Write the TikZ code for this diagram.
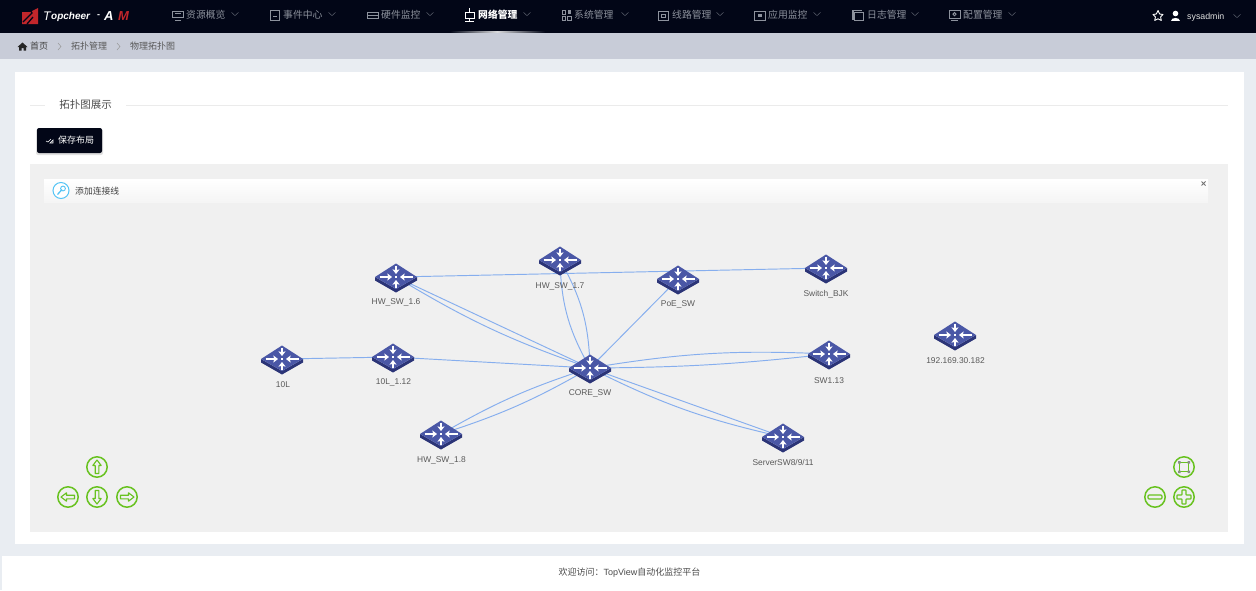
\documentclass[tikz,border=0pt]{standalone}
\usepackage{fontspec}
\setmainfont{Liberation Sans}
\newfontfamily\cjk{Noto Sans CJK SC}
\usetikzlibrary{arrows.meta,shadows}
\definecolor{navbg}{HTML}{020617}
\definecolor{crumbbg}{HTML}{C8CCD8}
\definecolor{pagebg}{HTML}{E9EDF2}
\definecolor{canvasbg}{HTML}{F0F0F0}
\definecolor{linkc}{HTML}{86AEEE}
\definecolor{faceC}{HTML}{4A57A6}
\definecolor{sideC}{HTML}{2B3477}
\definecolor{greenC}{HTML}{68C220}
\definecolor{menuC}{HTML}{8D929D}
\definecolor{logoR}{HTML}{C2262B}
\definecolor{iconB}{HTML}{55C4F5}
\newcommand{\fs}[1]{\fontsize{#1}{#1}\selectfont}
\tikzset{
  x=1pt,y=-1pt,
  anchorpt/.style={inner sep=0pt,minimum size=0pt,outer sep=0pt},
  devlabel/.style={inner sep=0pt,text=black!65,font=\fs{8.4}},
  menuitem/.style={inner sep=0pt,anchor=west,text=menuC,font=\cjk\fs{9.8}},
  crumb/.style={inner sep=0pt,anchor=west,text=black!75,font=\cjk\fs{9}},
  link/.style={draw=linkc,line width=0.95pt},
  chev/.style={draw=menuC!65!navbg,line width=0.5pt},
  gbtn/.style={draw=greenC,line width=1.5pt,fill=canvasbg},
  gsym/.style={draw=greenC,line width=1.1pt,line join=round},
  micon/.style={draw=menuC,line width=0.9pt},
  rarrow/.style={white,line width=1.5pt,-{Stealth[length=4.6pt,width=7pt,inset=0.8pt]}},
  router/.pic={
    \fill[sideC] (-21,0)--(0,12)--(21,0)--(21,3.5)--(0,15.5)--(-21,3.5)--cycle;
    \fill[faceC] (-21,0)--(0,-13.5)--(21,0)--(0,12)--cycle;
    \draw[rarrow] (-16.5,0)--(-4,0);
    \draw[rarrow] (16.5,0)--(4,0);
    \draw[rarrow] (0,-11.5)--(0,-3);
    \draw[rarrow] (0,11)--(0,3);
    \fill[white] (-1.4,-1.2) rectangle (1.4,1.2);
  },
  arrowbtn/.pic={
    \draw[gbtn] (0,0) circle (10.2);
    \draw[gsym] (0,-7)--(4.2,-1.5)--(1.8,-1.5)--(1.8,6.5)--(-1.8,6.5)--(-1.8,-1.5)--(-4.2,-1.5)--cycle;
  }
}
\newcommand{\chevron}[2]{\draw[chev] (#1-3.5,#2-1.6)--(#1,#2+1.6)--(#1+3.5,#2-1.6);}
\begin{document}
\begin{tikzpicture}
\useasboundingbox (0,0) rectangle (1256,590);
% page
\fill[pagebg] (0,0) rectangle (1256,590);
\fill[navbg] (0,0) rectangle (1256,33);
\fill[crumbbg] (0,33) rectangle (1256,59);
\fill[white] (2,556) rectangle (1256,590);
\fill[white] (15,72) rectangle (1244,544);
\fill[canvasbg] (30,164) rectangle (1228,532);
% logo
\fill[logoR] (22,12)--(30,12)--(38,8)--(38,24)--(22,24)--cycle;
\draw[navbg,line width=1.3pt] (29,8)--(32,13)--(23,22);
\draw[navbg,line width=1.3pt] (33,17)--(27,24);
\node[anchor=west,inner sep=0pt,text=white,font=\itshape\fs{12.5}] (logot) at (43,16.5) {T};
\node[anchor=west,inner sep=0pt,text=white,font=\itshape\bfseries\fs{10}] (logotext) at (51,17) {opcheer};
\node[anchor=west,inner sep=0pt,text=white!70,font=\bfseries\fs{9}] (logodash) at (97,16.5) {-};
\node[anchor=west,inner sep=0pt,text=white,font=\itshape\bfseries\fs{13}] (logoam) at (104,16.5) {A};
\node[anchor=west,inner sep=0pt,text=logoR,font=\itshape\bfseries\fs{13}] (logoam2) at (118,16.5) {M};
% menu
\node[menuitem] (m1) at (186,15) {资源概览};
\node[menuitem] (m2) at (283,15) {事件中心};
\node[menuitem] (m3) at (381,15) {硬件监控};
\node[menuitem,text=white,font=\cjk\bfseries\fs{9.8}] (m4) at (478,15) {网络管理};
\node[menuitem] (m5) at (574,15) {系统管理};
\node[menuitem] (m6) at (672,15) {线路管理};
\node[menuitem] (m7) at (768,15) {应用监控};
\node[menuitem] (m8) at (867,15) {日志管理};
\node[menuitem] (m9) at (963,15) {配置管理};
\chevron{235}{14}\chevron{332}{14}\chevron{430}{14}\chevron{527}{14}\chevron{625}{14}\chevron{720}{14}\chevron{817}{14}\chevron{915}{14}\chevron{1012}{14}\chevron{1237}{16}
% menu icons
\draw[micon] (172.5,11) rectangle (183,17.5); \draw[micon] (175,20)--(181,20); \draw[micon] (175,13.5)--(180.5,13.5);
\draw[micon] (270.5,10.5) rectangle (279.5,20.5); \draw[micon] (273,16.5)--(277,16.5);
\draw[micon] (367,12) rectangle (378,18); \draw[micon] (367,15.5)--(378,15.5);
\draw[white,line width=0.9pt] (465,12.5) rectangle (474,18); \draw[white,line width=0.9pt] (469.5,8)--(469.5,12) (469.5,18)--(469.5,21.5) (465,21.5)--(474,21.5);
\draw[micon] (562,10.5) rectangle (565.5,14) (562,16) rectangle (565.5,20) (567.5,16) rectangle (571,20); \fill[menuC] (567.5,10) rectangle (571,14);
\draw[micon] (658,11) rectangle (668,20); \draw[micon] (661,14)--(665,14)--(665,17.5)--(661,17.5)--cycle;
\draw[micon] (754.5,11) rectangle (765,20); \fill[menuC] (758,14) rectangle (762,17);
\draw[micon] (854,12.5) rectangle (863.5,20); \fill[menuC] (852,9.5) rectangle (854,20); \draw[micon] (854,10)--(862,10);
\draw[micon] (949,10.5) rectangle (960,18); \draw[micon] (951,20.5)--(958,20.5); \draw[micon] (954.5,14.2) circle (1.6);
% active underline
\shade[left color=navbg,right color=white!85!navbg,draw=none] (450,31.8) rectangle (497,32.8);
\shade[left color=white!85!navbg,right color=navbg,draw=none] (497,31.8) rectangle (545,32.8);
% user area
\draw[white,line width=0.9pt,line join=round] (1158,10.5)--(1159.7,14)--(1163,14.5)--(1160.6,17)--(1161.3,20.5)--(1158,18.8)--(1154.7,20.5)--(1155.4,17)--(1153,14.5)--(1156.3,14)--cycle;
\fill[white] (1175.5,13.5) circle (2.8);
\fill[white] (1170.8,21) .. controls (1170.8,16.5) and (1180.2,16.5) .. (1180.2,21) -- cycle;
\node[inner sep=0pt,anchor=west,text=white!88!black,font=\fs{8.8}] (user) at (1187,17) {sysadmin};
% breadcrumb
\fill[black!85] (22.5,42.5)--(17.5,47)--(19,47)--(19,50.5)--(21.5,50.5)--(21.5,48)--(23.5,48)--(23.5,50.5)--(26,50.5)--(26,47)--(27.5,47)--cycle;
\node[crumb] (c1) at (30,46.5) {首页};
\node[crumb,text=black!65] (c2) at (71,46.5) {拓扑管理};
\node[crumb,text=black!65] (c3) at (130,46.5) {物理拓扑图};
\draw[black!40,line width=0.5pt] (58,43)--(61,46.5)--(58,50) (117,43)--(120,46.5)--(117,50);
% title
\draw[black!8,line width=0.8pt] (30,105)--(45,105) (126,105)--(1228,105);
\node[inner sep=0pt,text=black!70,font=\cjk\fs{10.5}] (title) at (85.5,105) {拓扑图展示};
% save button
\fill[black!12,rounded corners=2pt] (36,129) rectangle (103,155);
\fill[navbg,rounded corners=2pt] (37,128) rectangle (102,153);
\draw[white,line width=0.6pt] (46,141)--(48,142)--(51,139) (50,143)--(53,143)--(53,140)--cycle;
\node[inner sep=0pt,text=white,font=\cjk\fs{9}] (save) at (76,140.5) {保存布局};
% toolbar
\shade[top color=white,bottom color=white!96!black] (44,179) rectangle (1208,202);
\draw[draw=iconB,line width=1pt,fill=white] (61,190.5) circle (8);
\draw[draw=iconB,line width=1.3pt] (57.5,194.5)--(62,189.5);
\draw[draw=iconB,line width=0.9pt] (63,188.5) circle (2.4);
\node[inner sep=0pt,anchor=west,text=black!75,font=\cjk\fs{8.8}] (addlink) at (75,191) {添加连接线};
\draw[black!55,line width=0.9pt] (1201.5,181.5)--(1205.5,185.5) (1205.5,181.5)--(1201.5,185.5);
% device anchors
\node[anchorpt] (hw16) at (396,277) {};
\node[anchorpt] (hw17) at (560,260) {};
\node[anchorpt] (poe) at (678,279) {};
\node[anchorpt] (bjk) at (826,268) {};
\node[anchorpt] (ip) at (955,335) {};
\node[anchorpt] (sw113) at (829,354) {};
\node[anchorpt] (core) at (590,368) {};
\node[anchorpt] (l112) at (393,357) {};
\node[anchorpt] (l10) at (282,359) {};
\node[anchorpt] (hw18) at (441,434) {};
\node[anchorpt] (srv) at (783,437) {};
% links
\draw[link] (l10)--(l112);
\draw[link] (l112)--(core);
\draw[link] (hw16)--(bjk);
\draw[link] (hw16)--(core);
\draw[link] (hw16) to[bend right=6] (core);
\draw[link] (hw17) to[bend left=14] (core);
\draw[link] (hw17) to[bend right=14] (core);
\draw[link] (poe)--(core);
\draw[link] (core) to[bend left=6] (sw113);
\draw[link] (core) to[bend right=3] (sw113);
\draw[link] (core)--(srv);
\draw[link] (core) to[bend right=7] (srv);
\draw[link] (core) to[bend left=6] (hw18);
\draw[link] (core) to[bend right=6] (hw18);
% devices
\foreach \n in {hw16,hw17,poe,bjk,ip,sw113,core,l112,l10,hw18,srv} {\pic at (\n) {router};}
% labels
\node[devlabel] (lhw16) at (396,302.5) {HW\_SW\_1.6};
\node[devlabel] (lhw17) at (560,286) {HW\_SW\_1.7};
\node[devlabel] (lpoe) at (678,304) {PoE\_SW};
\node[devlabel] (lbjk) at (826,294.5) {Switch\_BJK};
\node[devlabel] (lip) at (955.5,361) {192.169.30.182};
\node[devlabel] (lsw) at (829,380.5) {SW1.13};
\node[devlabel] (lcore) at (590,393.5) {CORE\_SW};
\node[devlabel] (ll112) at (393.5,382.5) {10L\_1.12};
\node[devlabel] (ll10) at (283,385) {10L};
\node[devlabel] (lhw18) at (441.5,460) {HW\_SW\_1.8};
\node[devlabel] (lsrv) at (783,462.5) {ServerSW8/9/11};
% nav buttons
\pic at (97,467) {arrowbtn};
\pic at (97,497) [rotate=180] {arrowbtn};
\pic at (68,497) [rotate=90] {arrowbtn};
\pic at (127,497) [rotate=-90] {arrowbtn};
\draw[gbtn] (1184,467) circle (10.2);
\draw[gsym] (1179.5,462.5) rectangle (1188.5,471.5);
\fill[black!45] (1178,461) rectangle (1180.5,463.5) (1187.5,461) rectangle (1190,463.5) (1178,470.5) rectangle (1180.5,473) (1187.5,470.5) rectangle (1190,473);
\draw[gbtn] (1155,497) circle (10.2);
\draw[gsym,rounded corners=1pt] (1148,495) rectangle (1162,499);
\draw[gbtn] (1184,497) circle (10.2);
\draw[gsym,rounded corners=0.5pt] (1182,490)--(1186,490)--(1186,495)--(1191,495)--(1191,499)--(1186,499)--(1186,504)--(1182,504)--(1182,499)--(1177,499)--(1177,495)--(1182,495)--cycle;
% footer
\node[inner sep=0pt,text=black!70,font=\fs{9}] (foot) at (629.5,573) {{\cjk 欢迎访问：}TopView{\cjk 自动化监控平台}};
\end{tikzpicture}
\end{document}
